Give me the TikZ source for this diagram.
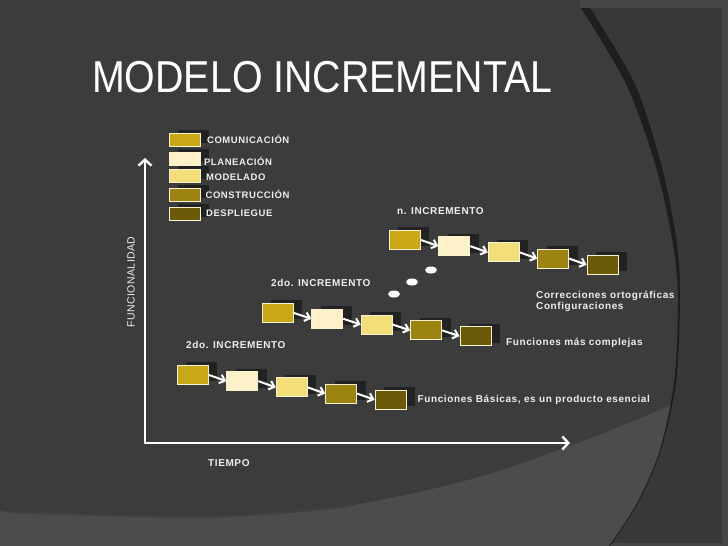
\documentclass[tikz,border=0pt]{standalone}
\usepackage{fontspec}
\setmainfont{Liberation Sans}
\usetikzlibrary{positioning}
\usetikzlibrary{shadows}
\usetikzlibrary{arrows.meta}
\definecolor{slide}{RGB}{60,60,60}
\definecolor{slidedark}{RGB}{56,56,56}
\definecolor{slidelight}{RGB}{76,76,76}
\definecolor{frame}{RGB}{70,70,70}
\definecolor{arcline}{RGB}{30,30,30}
\definecolor{shade}{RGB}{34,34,34}
\definecolor{edge}{RGB}{250,242,205}
\definecolor{comm}{RGB}{200,168,22}
\definecolor{plan}{RGB}{252,241,200}
\definecolor{model}{RGB}{244,222,122}
\definecolor{constr}{RGB}{156,131,18}
\definecolor{deploy}{RGB}{106,90,10}
\definecolor{ink}{RGB}{238,238,238}
\newcommand{\keyfont}{\fontsize{9.5}{11.5}\selectfont\bfseries\addfontfeatures{LetterSpace=6}}
\newcommand{\lblfont}{\fontsize{10}{11.5}\selectfont\bfseries\addfontfeatures{LetterSpace=6}}

\begin{document}
\begin{tikzpicture}[x=1pt,y=-1pt,
  stage/.style={rectangle,inner sep=0pt,minimum width=31pt,minimum height=19pt,draw=edge,line width=0.9pt,
    drop shadow={shadow xshift=9pt,shadow yshift=3pt,fill=shade,opacity=1}},
  key/.style={stage,minimum height=12.5pt},
  lbl/.style={inner sep=0pt,anchor=west,text=ink,font=\lblfont},
  keylbl/.style={lbl,font=\keyfont},
  flow/.style={white,line width=2pt,-{Straight Barb[length=5pt,width=9pt]}},
  axis/.style={white,line width=2.4pt,line join=miter,{Straight Barb[length=6pt,width=13pt]}-{Straight Barb[length=6pt,width=13pt]}}]
  \useasboundingbox (0,0) rectangle (728,546);
  %background
  \fill[frame] (0,0) rectangle (728,546);
  \fill[slide] (0,0) rectangle (722,543);
  \fill[frame] (580,0) rectangle (728,8);
  \fill[slidelight] (0,511) -- plot[smooth] coordinates {(8,512) (186,517) (279,513) (348,506) (441,487) (511,467) (604,433) (673,404)}
    -- plot[smooth] coordinates {(673,404) (659,453) (636,505) (609,546)} -- (0,546) -- cycle;
  \draw[black!75,line width=2pt] plot[smooth] coordinates {(8,512) (186,517) (279,513) (348,506)};
  \fill[slidedark] plot[smooth] coordinates {(590,8) (636,84) (663,167) (677,244) (680,300) (676,383) (660,453) (637,505) (610,546)}
    -- (722,546) -- (722,8) -- cycle;
  \fill[frame] (610,543) rectangle (728,546);
  \fill[arcline] plot[smooth] coordinates {(581,8) (626,84) (656,167) (673,244) (678,300) (674,383) (659,453) (636,505) (609,546)}
    -- plot[smooth] coordinates {(610,546) (637,505) (660,453) (676,383) (680,300) (677,244) (662,167) (635,84) (590,8)} -- cycle;
  %title
  \node[anchor=base west,inner sep=0pt,text=white,font=\fontsize{44.7}{50}\selectfont,xscale=0.88] (title) at (92,92) {MODELO INCREMENTAL};
  %legend
  \node[key,fill=comm,anchor=north west] (k1) at (169,133) {};
  \node[key,fill=plan,anchor=north west] (k2) at (169,152) {};
  \node[key,fill=model,anchor=north west] (k3) at (169,169) {};
  \node[key,fill=constr,anchor=north west] (k4) at (169,188) {};
  \node[key,fill=deploy,anchor=north west] (k5) at (169,207) {};
  \node[keylbl,right=6pt of k1] (t1) {COMUNICACIÓN};
  \node[keylbl,right=3pt of k2,yshift=-3pt] (t2) {PLANEACIÓN};
  \node[keylbl,right=5pt of k3,yshift=-1.5pt] (t3) {MODELADO};
  \node[keylbl,right=4.5pt of k4] (t4) {CONSTRUCCIÓN};
  \node[keylbl,right=5pt of k5] (t5) {DESPLIEGUE};
  %axes
  \coordinate (orig) at (145,443);
  \coordinate (ytop) at (145,158);
  \coordinate (xtip) at (570,443);
  \draw[axis] (ytop) -- (orig) -- (xtip);
  \node[lbl] (time) at (208,463) {TIEMPO};
  \node[inner sep=0pt,text=ink,font=\fontsize{10.5}{12}\selectfont\addfontfeatures{LetterSpace=4},rotate=90] (func) at (131,282) {FUNCIONALIDAD};
  %first increment
  \node[stage,fill=comm,anchor=north west] (a1) at (177,365) {};
  \node[stage,fill=plan,right=17.5pt of a1,yshift=-6.2pt] (a2) {};
  \node[stage,fill=model,right=17.5pt of a2,yshift=-6.2pt] (a3) {};
  \node[stage,fill=constr,right=17.5pt of a3,yshift=-6.2pt] (a4) {};
  \node[stage,fill=deploy,right=17.5pt of a4,yshift=-6.2pt] (a5) {};
  \draw[flow] (a1.east) -- (a2.west);
  \draw[flow] (a2.east) -- (a3.west);
  \draw[flow] (a3.east) -- (a4.west);
  \draw[flow] (a4.east) -- (a5.west);
  \node[lbl] (alab) at (186,345) {2do. INCREMENTO};
  \node[lbl,right=11pt of a5] (atxt) {Funciones Básicas, es un producto esencial};
  %second increment
  \node[stage,fill=comm,anchor=north west] (b1) at (262,303) {};
  \node[stage,fill=plan,right=17.5pt of b1,yshift=-5.8pt] (b2) {};
  \node[stage,fill=model,right=17.5pt of b2,yshift=-5.8pt] (b3) {};
  \node[stage,fill=constr,right=17.5pt of b3,yshift=-5.8pt] (b4) {};
  \node[stage,fill=deploy,right=17.5pt of b4,yshift=-5.8pt] (b5) {};
  \draw[flow] (b1.east) -- (b2.west);
  \draw[flow] (b2.east) -- (b3.west);
  \draw[flow] (b3.east) -- (b4.west);
  \draw[flow] (b4.east) -- (b5.west);
  \node[lbl] (blab) at (271,283) {2do. INCREMENTO};
  \node[lbl] (btxt) at (506,343) {Funciones más complejas};
  %n-th increment
  \node[stage,fill=comm,anchor=north west] (c1) at (389,230) {};
  \node[stage,fill=plan,right=17.5pt of c1,yshift=-6.2pt] (c2) {};
  \node[stage,fill=model,right=17.5pt of c2,yshift=-6.2pt] (c3) {};
  \node[stage,fill=constr,right=17.5pt of c3,yshift=-6.2pt] (c4) {};
  \node[stage,fill=deploy,right=17.5pt of c4,yshift=-6.2pt] (c5) {};
  \draw[flow] (c1.east) -- (c2.west);
  \draw[flow] (c2.east) -- (c3.west);
  \draw[flow] (c3.east) -- (c4.west);
  \draw[flow] (c4.east) -- (c5.west);
  \node[lbl] (clab) at (397,211) {n. INCREMENTO};
  \node[lbl,align=left] (ctxt) at (536,301.5) {Correcciones ortográficas\\Configuraciones};
  %dots
  \fill[white] (394,294) ellipse (6 and 3.5);
  \fill[white] (412,282) ellipse (6 and 3.5);
  \fill[white] (431,270) ellipse (6 and 3.5);
\end{tikzpicture}
\end{document}
